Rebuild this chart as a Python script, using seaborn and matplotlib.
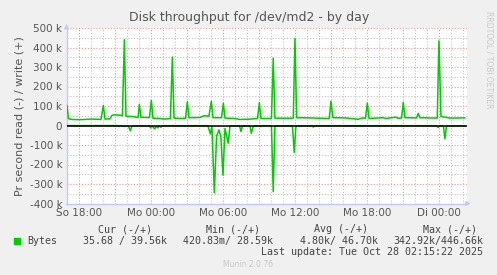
import matplotlib
matplotlib.use("Agg")
import matplotlib.pyplot as plt
import seaborn as sns
import pandas as pd
import numpy as np
from matplotlib.ticker import FixedLocator

# ---- data (hours relative to Mo 00:00, values in kB/s) ----
write_hours = [-7.0, -6.88, -6.58, -6.0, -5.5, -5.0, -4.5, -4.17, -3.97, -3.83, -3.42, -3.25, -3.0, -2.5,
               -2.38, -2.22, -2.08, -1.6, -1.33, -1.08, -0.97, -0.83, -0.4, -0.125, 0.03, 0.17, 0.75,
               1.08, 1.62, 1.78, 1.92, 2.4, 2.88, 3.03, 3.17, 4.08, 4.42, 4.83, 5.03, 5.17, 5.88, 6.03,
               6.17, 7.0, 7.42, 8.08, 8.88, 9.03, 9.17, 10.04, 10.19, 10.33, 11.17, 11.86, 12.0, 12.14,
               13.25, 14.08, 14.86, 15.0, 15.17, 16.17, 17.25, 17.58, 17.88, 18.03, 18.17, 19.33, 19.58,
               20.42, 20.58, 20.88, 21.03, 21.17, 22.13, 22.28, 22.42, 23.86, 24.0, 24.17, 24.58, 24.92,
               26.17]
write_vals = [103, 35, 31, 30, 31, 33, 32, 31, 103, 33, 34, 52, 55, 52,
              50, 440, 48, 46, 44, 40, 108, 42, 41, 41, 129, 37, 36,
              33, 35, 351, 38, 36, 37, 122, 40, 41, 50, 48, 124, 40, 40, 114,
              38, 36, 31, 32, 36, 117, 36, 36, 345, 38, 37, 38, 446, 40,
              39, 37, 36, 124, 40, 39, 32, 38, 38, 115, 36, 40, 36,
              43, 37, 38, 119, 40, 39, 62, 40, 38, 434, 46, 42, 38,
              39]

read_hours = [-7.0, -2.75, -2.67, -2.58, -2.25, -2.17, -1.88, -1.72, -1.58, -0.125, -0.04, 0.08, 0.31,
              0.46, 0.58, 0.71, 0.83, 0.96, 4.75, 4.94, 5.08, 5.28, 5.47, 5.67, 5.83, 6.0, 6.17, 6.44,
              6.58, 7.38, 7.5, 7.63, 8.25, 8.36, 8.5, 8.67, 9.17, 9.29, 10.04, 10.19, 10.33, 11.79,
              11.94, 12.08, 13.42, 13.53, 13.67, 23.79, 23.94, 24.08, 24.38, 24.5, 24.63, 26.17]
read_vals = [0.5, 0.5, 5, 0.5, 5, 1, 3, 27, 2, 1, 12, 3, 17,
             3, 12, 2, 9, 1, 1, 43, 5, 345, 55, 22, 60, 255, 15, 91,
             3, 1, 31, 1, 2, 40, 8, 1, 5, 1, 1, 339, 2, 1,
             138, 2, 1, 8, 1, 1, 10, 1, 5, 69, 3, 1]

xtick_labels = ["So 18:00", "Mo 00:00", "Mo 06:00", "Mo 12:00", "Mo 18:00", "Di 00:00"]
xtick_hours = [-6, 0, 6, 12, 18, 24]
ytick_vals = [-400, -300, -200, -100, 0, 100, 200, 300, 400, 500]

legend_headers = ["Cur (-/+)", "Min (-/+)", "Avg (-/+)", "Max (-/+)"]
legend_values = ["35.68 / 39.56k", "420.83m/ 28.59k", "4.80k/ 46.70k", "342.92k/446.66k"]

# ---- figure ----
sns.set_style("white")
plt.rcParams["font.family"] = ["DejaVu Sans"]
BG = "#F0F0F0"
GREEN = "#00CC00"
TXT = "#555555"

fig = plt.figure(figsize=(4.97, 2.75), dpi=100, facecolor=BG)
ax = fig.add_axes([66.5 / 497, (275 - 203.5) / 275, 401 / 497, 175.5 / 275])
ax.set_facecolor("white")

dfw = pd.DataFrame({"h": write_hours, "v": write_vals})
dfr = pd.DataFrame({"h": read_hours, "v": [-v for v in read_vals]})

ax.set_xlim(-7.04, 26.38)
ax.set_ylim(-400, 500)

# grid
for h in np.arange(-7, 27, 1):
    major = (h % 3 == 0)
    ax.axvline(h, color="#EE9999" if major else "#C4C4C4", lw=0.8,
               ls=(0, (1, 1.6)), zorder=0)
for y in np.arange(-400, 501, 50):
    major = (y % 100 == 0)
    ax.axhline(y, color="#EE9999" if major else "#C4C4C4", lw=0.8,
               ls=(0, (1, 1.6)), zorder=0)

sns.lineplot(data=dfw, x="h", y="v", ax=ax, color=GREEN, lw=1.1, zorder=3)
sns.lineplot(data=dfr, x="h", y="v", ax=ax, color=GREEN, lw=1.1, zorder=3)
ax.axhline(0, color="black", lw=1.1, zorder=4)

ax.set_xlabel("")
ax.set_ylabel("Pr second read (-) / write (+)", fontsize=8, color=TXT, labelpad=4)

ax.xaxis.set_major_locator(FixedLocator(xtick_hours))
ax.set_xticklabels(xtick_labels)
ax.yaxis.set_major_locator(FixedLocator(ytick_vals))
ax.set_yticklabels([f"{v} k" if v != 0 else "0" for v in ytick_vals])
ax.tick_params(axis="both", labelsize=7.5, colors=TXT, length=0, pad=3)

for s in ["top", "right"]:
    ax.spines[s].set_visible(False)
for s in ["left", "bottom"]:
    ax.spines[s].set_color("#C8C8F8")
    ax.spines[s].set_linewidth(1.0)

# axis arrows
ax.annotate("", xy=(0, 1.04), xytext=(0, 0.99), xycoords="axes fraction",
            arrowprops=dict(arrowstyle="-|>", color="#C8C8F8", lw=0.8, mutation_scale=7),
            annotation_clip=False)
ax.annotate("", xy=(1.015, 0), xytext=(0.995, 0), xycoords="axes fraction",
            arrowprops=dict(arrowstyle="-|>", color="#C8C8F8", lw=0.8, mutation_scale=7),
            annotation_clip=False)

# title
fig.text(249 / 497, 1 - 17 / 275, "Disk throughput for /dev/md2 - by day",
         ha="center", va="center", fontsize=9, color=TXT)
# side text
fig.text(489 / 497, 1 - 60 / 275, "RRDTOOL / TOBI OETIKER", rotation=270,
         ha="center", va="center", fontsize=5.5, color="#C8C8C8")

# legend (munin style)
mono = "DejaVu Sans Mono"
LT = "#444444"
hdr_x = [125, 233, 341, 450]
for x, t in zip(hdr_x, legend_headers):
    fig.text(x / 497, 1 - 229 / 275, t, ha="center", va="center",
             fontsize=7.2, family=mono, color=LT)
fig.patches.append(plt.Rectangle((14 / 497, 1 - 244 / 275), 6 / 497, 6 / 275,
                                 transform=fig.transFigure, color=GREEN, figure=fig))
fig.text(27 / 497, 1 - 241 / 275, "Bytes", ha="left", va="center",
         fontsize=7.2, family=mono, color=LT)
val_right = [167, 273, 378, 483]
for x, t in zip(val_right, legend_values):
    fig.text(x / 497, 1 - 241 / 275, t, ha="right", va="center",
             fontsize=7.2, family=mono, color=LT)
fig.text(483 / 497, 1 - 252 / 275, "Last update: Tue Oct 28 02:15:22 2025",
         ha="right", va="center", fontsize=7.2, family=mono, color=LT)
fig.text(248 / 497, 1 - 264.5 / 275, "Munin 2.0.76", ha="center", va="center",
         fontsize=5.5, color="#C8C8C8")

fig.savefig("out.png", dpi=100, facecolor=BG)
